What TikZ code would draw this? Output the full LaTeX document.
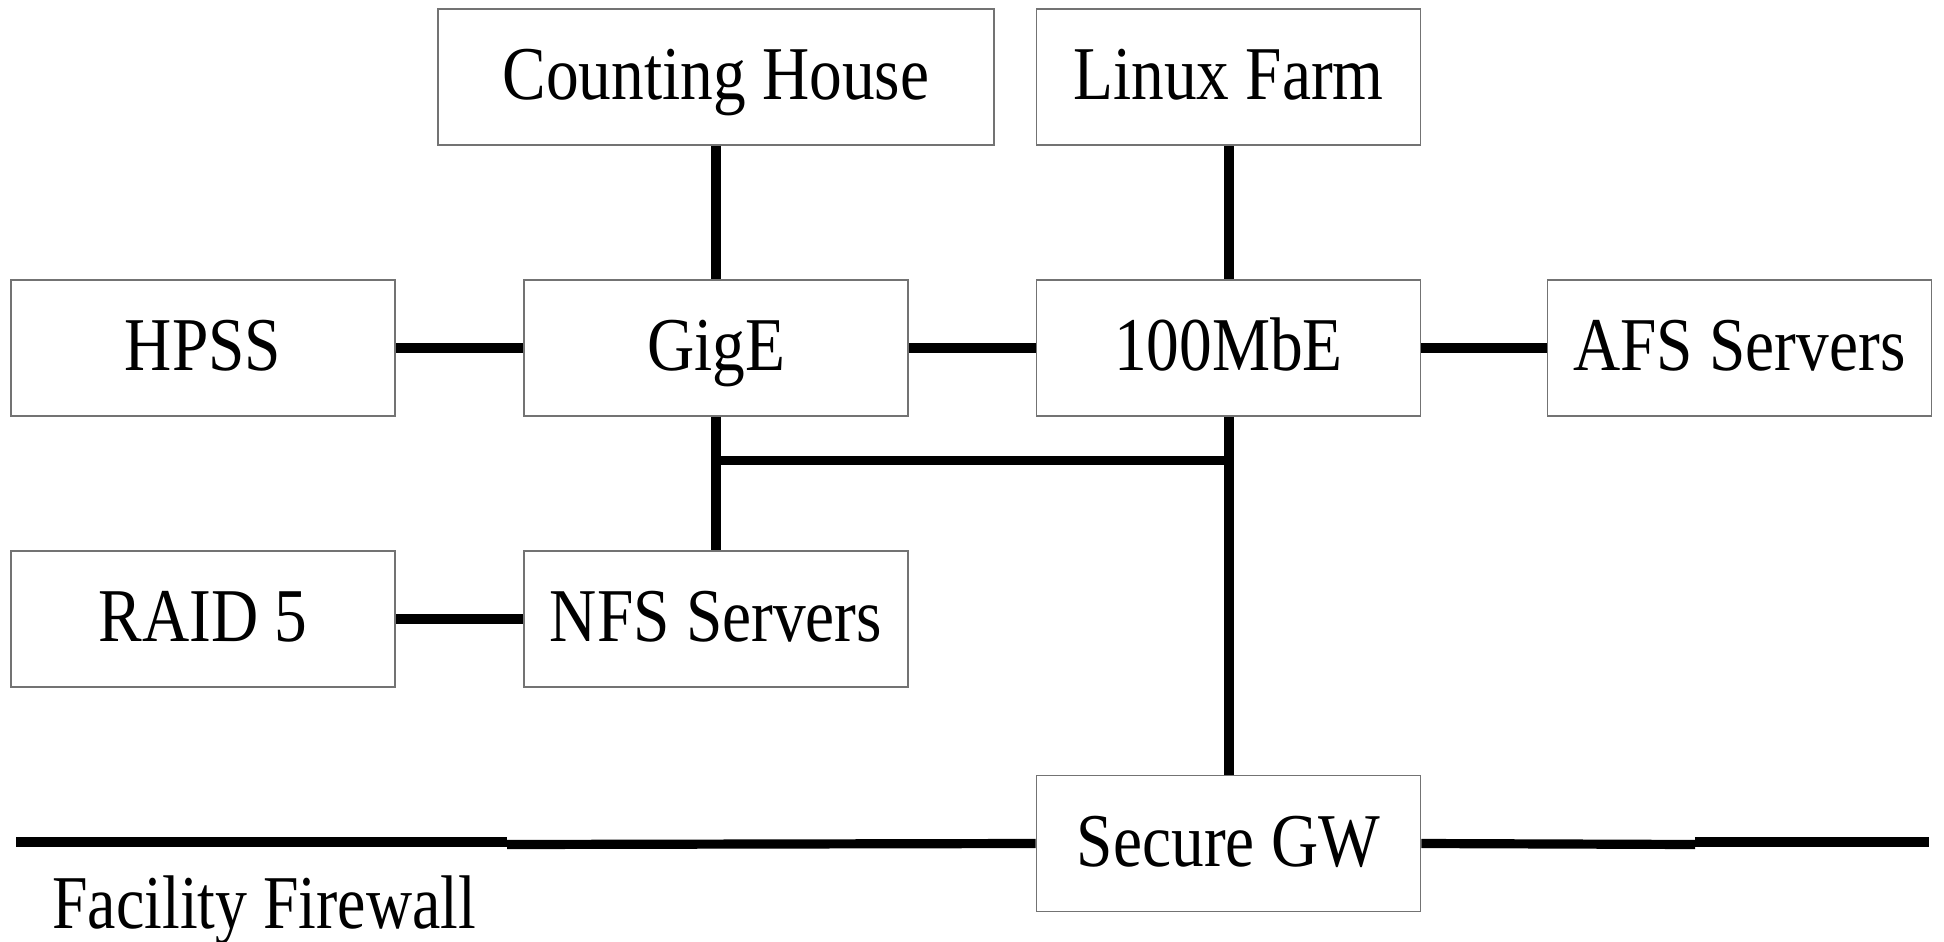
\documentclass[tikz,border=0pt]{standalone}
\usepackage{fontspec}
\usepackage{graphicx}
\setmainfont{Liberation Serif}
\newcommand{\sqz}[1]{\scalebox{0.86}[1]{#1}}
\tikzset{
  netbox/.style={draw=black!55, line width=0.8pt, rectangle, inner sep=0pt,
    minimum width=192pt, minimum height=68pt,
    font=\fontsize{38}{40}\selectfont, text height=22.5pt, text depth=0pt},
  wide/.style={minimum width=278pt},
  link/.style={line width=5pt, line cap=butt},
  thinlink/.style={line width=4.6pt, line cap=butt},
  label/.style={font=\fontsize{38}{40}\selectfont, inner sep=0pt}
}
\begin{document}
\begin{tikzpicture}[x=0.5pt,y=-0.5pt]
\useasboundingbox (0,0) rectangle (1944,942);
% nodes
\node[netbox,wide] (ch)   at (716,77)     {\sqz{Counting House}};
\node[netbox]      (lf)   at (1228.5,77)  {\sqz{Linux Farm}};
\node[netbox]      (hpss) at (203,348)    {\sqz{HPSS}};
\node[netbox]      (gige) at (716,348)    {\sqz{GigE}};
\node[netbox]      (mbe)  at (1228.5,348) {\sqz{100MbE}};
\node[netbox]      (afs)  at (1739.5,348) {\sqz{AFS Servers}};
\node[netbox]      (raid) at (203,619)    {\sqz{RAID 5}};
\node[netbox]      (nfs)  at (716,619)    {\sqz{NFS Servers}};
\node[netbox]      (gw)   at (1228.5,843.5) {\sqz{Secure GW}};
\node[label, anchor=base west] (fw) at (52,928) {\scalebox{0.84}[1]{Facility Firewall}};
% helper coordinates
\coordinate (busL) at (716,460.5);
\coordinate (busR) at (1228.5,460.5);
\coordinate (fw1) at (16,842);
\coordinate (fw2) at (507,842);
\coordinate (fw3) at (507,844.5);
\coordinate (fw4) at (1695,844.5);
\coordinate (fw5) at (1695,842);
\coordinate (fw6) at (1929,842);
% connectors
\draw[link] (ch.south) -- (gige.north);
\draw[link] (lf.south) -- (mbe.north);
\draw[link] (hpss.east) -- (gige.west);
\draw[link] (gige.east) -- (mbe.west);
\draw[link] (mbe.east) -- (afs.west);
\draw[link] (gige.south) -- (nfs.north);
\draw[thinlink] (busL) -- (busR);
\draw[link] (mbe.south) -- (gw.north);
\draw[link] (raid.east) -- (nfs.west);
\draw[thinlink] (fw1) -- (fw2);
\draw[thinlink] (fw3) -- (gw.west);
\draw[thinlink] (gw.east) -- (fw4);
\draw[thinlink] (fw5) -- (fw6);
\end{tikzpicture}
\end{document}
